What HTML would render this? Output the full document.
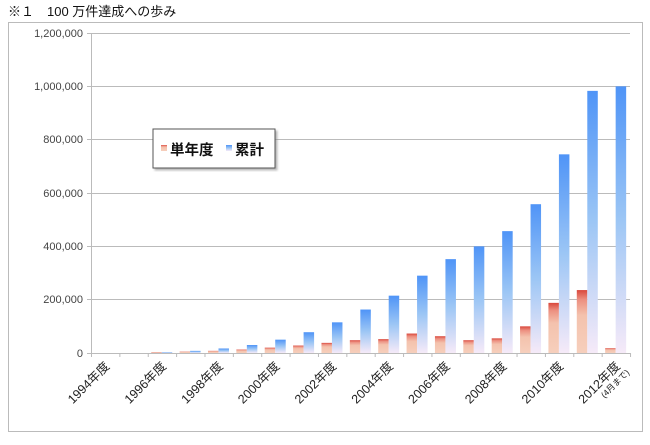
<!DOCTYPE html>
<html><head><meta charset="utf-8"><style>
body{margin:0;background:#fff;width:650px;height:440px;overflow:hidden}
text{font-family:"Liberation Sans","Noto Sans CJK JP",sans-serif}
</style></head><body>
<svg width="650" height="440" xmlns="http://www.w3.org/2000/svg">
<defs>
<linearGradient id="b" x1="0" y1="0" x2="0" y2="1"><stop offset="0" stop-color="#4f94f7"/><stop offset="0.5" stop-color="#9cc6f5"/><stop offset="1" stop-color="#f6eaf8"/></linearGradient>
<linearGradient id="r" x1="0" y1="0" x2="0" y2="1"><stop offset="0" stop-color="#d9473c"/><stop offset="0.15" stop-color="#ec8f80"/><stop offset="0.4" stop-color="#f4c2ad"/><stop offset="1" stop-color="#f6cfbc"/></linearGradient>
<filter id="sh"><feDropShadow dx="2" dy="2" stdDeviation="1" flood-color="#888" flood-opacity="0.6"/></filter>
</defs>
<text x="8" y="16" font-size="13" fill="#111">※１　100 万件達成への歩み</text>
<rect x="8.5" y="22.5" width="634" height="409" fill="#fff" stroke="#bbb"/>
<g stroke="#bbb" stroke-width="1">
<line x1="87" y1="33.5" x2="630" y2="33.5"/><line x1="87" y1="86.5" x2="630" y2="86.5"/>
<line x1="87" y1="139.5" x2="630" y2="139.5"/><line x1="87" y1="193.5" x2="630" y2="193.5"/>
<line x1="87" y1="246.5" x2="630" y2="246.5"/><line x1="87" y1="299.5" x2="630" y2="299.5"/>
<line x1="87" y1="353.5" x2="630" y2="353.5"/><line x1="91.5" y1="33" x2="91.5" y2="353"/>
</g>
<g font-size="11" fill="#444" text-anchor="end">
<text x="83" y="37">1,200,000</text><text x="83" y="90">1,000,000</text><text x="83" y="143">800,000</text>
<text x="83" y="197">600,000</text><text x="83" y="250">400,000</text><text x="83" y="303">200,000</text><text x="83" y="357">0</text>
</g>
<g id="bars"></g>
<g id="ticks" stroke="#bbb"></g>
<g id="lab" font-size="12.5" fill="#222"></g>
<rect x="153" y="129" width="122" height="39" fill="#fff" stroke="#555" filter="url(#sh)"/>
<rect x="161" y="145" width="6" height="6" fill="url(#r)"/>
<text x="170" y="155" font-size="14.5" font-weight="bold" fill="#111">単年度</text>
<rect x="226" y="145" width="6" height="6" fill="url(#b)"/>
<text x="235" y="155" font-size="14.5" font-weight="bold" fill="#111">累計</text>
</svg>
<script>
var red=[0,500,3000,5000,8000,13000,20000,28000,38000,48000,52000,73000,63000,48000,55000,100000,188000,236000,18000];
var blue=[0,500,3000,8000,17000,30000,50000,78000,115000,163000,215000,290000,352000,400000,457000,558000,745000,983000,1000000];
var ns="http://www.w3.org/2000/svg",w=28.37,x0=91,y0=353,k=320/1200000;
var g=document.getElementById('bars'),t=document.getElementById('ticks'),l=document.getElementById('lab');
function el(p,n,a){var e=document.createElementNS(ns,n);for(var i in a)e.setAttribute(i,a[i]);p.appendChild(e);return e;}
for(var i=0;i<19;i++){var cx=x0+i*w;
var h=red[i]*k;if(h>0.5)el(g,'rect',{x:cx+3.5,y:y0-h,width:10.5,height:h,fill:'url(#r)'});
h=blue[i]*k;if(h>0.5)el(g,'rect',{x:cx+14,y:y0-h,width:10.5,height:h,fill:'url(#b)'});}
for(var i=0;i<=19;i++){var x=x0+i*w+0.5;el(t,'line',{x1:x,y1:353,x2:x,y2:357});}
for(var i=0;i<19;i+=2){var cx=x0+i*w+w/2+5;var tx=el(l,'text',{x:cx,y:367,'text-anchor':'end',transform:'rotate(-45 '+cx+' 367)'});tx.textContent=(1994+i)+'年度';}
var cx=x0+18*w+w/2+5;var tx=el(l,'text',{x:cx+9,y:373,'text-anchor':'end','font-size':'8.5',transform:'rotate(-45 '+(cx+9)+' 373)'});tx.textContent='(4月まで)';
</script>
</body></html>
